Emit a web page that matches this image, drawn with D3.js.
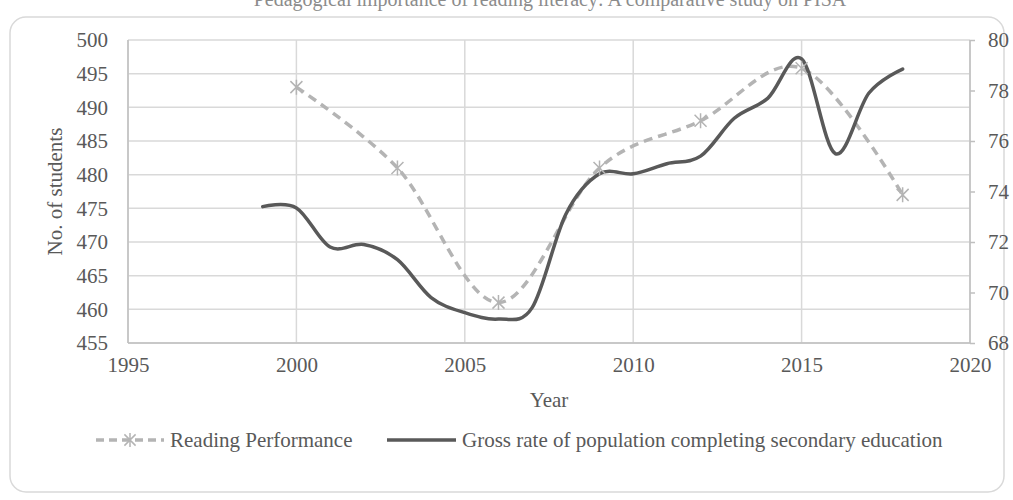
<!DOCTYPE html>
<html>
<head>
<meta charset="utf-8">
<script src="https://cdn.jsdelivr.net/npm/d3@7"></script>
<style>
  body { margin: 0; background: #fff; }
  text { font-family: "Liberation Serif", "Times New Roman", serif; fill: #595959; }
</style>
</head>
<body>
<script>
// reading performance (left axis)
var readingYears = [2000, 2003, 2006, 2009, 2012, 2015, 2018];
var readingScores = [493, 481, 461, 481, 488, 495.8, 477];

// gross completion rate (right axis)
var rateYears = [1999, 2000, 2001, 2002, 2003, 2004, 2005, 2006, 2007, 2008,
                 2009, 2010, 2011, 2012, 2013, 2014, 2015, 2016, 2017, 2018];
var rateValues = [73.4, 73.35, 71.8, 71.9, 71.3, 69.8, 69.2, 68.95, 69.4, 73.1,
                  74.7, 74.7, 75.1, 75.4, 76.9, 77.7, 79.25, 75.5, 77.9, 78.85];

var xTicks = [1995, 2000, 2005, 2010, 2015, 2020];
var leftTicks = [455, 460, 465, 470, 475, 480, 485, 490, 495, 500];
var rightTicks = [68, 70, 72, 74, 76, 78, 80];

var title = "Pedagogical importance of reading literacy: A comparative study on PISA";
var seriesNames = ["Reading Performance", "Gross rate of population completing secondary education"];

var W = 1013, H = 500;
var plotLeft = 128, plotRight = 970, plotTop = 40, plotBottom = 343;

var x = d3.scaleLinear().domain([1995, 2020]).range([plotLeft, plotRight]);
var yL = d3.scaleLinear().domain([455, 500]).range([plotBottom, plotTop]);
var yR = d3.scaleLinear().domain([68, 80]).range([plotBottom, plotTop]);

var svg = d3.select("body").append("svg")
    .attr("width", W)
    .attr("height", H);

// outer frame
svg.append("rect")
    .attr("x", 10).attr("y", 17)
    .attr("width", 994).attr("height", 475)
    .attr("rx", 16).attr("ry", 16)
    .attr("fill", "none")
    .attr("stroke", "#d9d9d9")
    .attr("stroke-width", 1.5);

svg.append("text")
    .attr("x", 550).attr("y", 6)
    .attr("text-anchor", "middle")
    .style("font-size", "20px")
    .style("fill", "#8c8c8c")
    .text(title);

// gridlines
svg.append("g").selectAll("line")
    .data(leftTicks)
  .enter().append("line")
    .attr("x1", plotLeft).attr("x2", plotRight)
    .attr("y1", function(d) { return yL(d); })
    .attr("y2", function(d) { return yL(d); })
    .attr("stroke", "#d9d9d9").attr("stroke-width", 1.5);

svg.append("g").selectAll("line")
    .data(xTicks)
  .enter().append("line")
    .attr("x1", function(d) { return x(d); })
    .attr("x2", function(d) { return x(d); })
    .attr("y1", plotTop).attr("y2", plotBottom)
    .attr("stroke", "#d9d9d9").attr("stroke-width", 1.5);

// axes
var xAxis = d3.axisBottom(x).tickValues(xTicks).tickSize(0).tickPadding(14).tickFormat(d3.format("d"));
var yAxisL = d3.axisLeft(yL).tickValues(leftTicks).tickSize(0).tickPadding(20);
var yAxisR = d3.axisRight(yR).tickValues(rightTicks).tickSize(5).tickPadding(13);

var gx = svg.append("g").attr("transform", "translate(0," + plotBottom + ")").call(xAxis);
var gl = svg.append("g").attr("transform", "translate(" + plotLeft + ",0)").call(yAxisL);
var gr = svg.append("g").attr("transform", "translate(" + plotRight + ",0)").call(yAxisR);

[gx, gl, gr].forEach(function(g) {
  g.select(".domain").attr("stroke", "#bfbfbf").attr("stroke-width", 1.5);
  g.selectAll(".tick line").attr("stroke", "#bfbfbf").attr("stroke-width", 1.5);
  g.selectAll(".tick text")
    .style("font-family", '"Liberation Serif", serif')
    .style("font-size", "21px")
    .attr("fill", "#595959");
});
gx.select(".domain").attr("d", "M" + plotLeft + ",0H" + plotRight);
gl.select(".domain").attr("d", "M0," + plotTop + "V" + plotBottom);
gr.select(".domain").attr("d", "M0," + plotTop + "V" + plotBottom);

// axis titles
svg.append("text")
    .attr("transform", "translate(62," + ((plotTop + plotBottom) / 2) + ") rotate(-90)")
    .attr("text-anchor", "middle")
    .style("font-size", "21px")
    .text("No. of students");

svg.append("text")
    .attr("x", (plotLeft + plotRight) / 2).attr("y", 407)
    .attr("text-anchor", "middle")
    .style("font-size", "21px")
    .text("Year");

// lines
var curve = d3.curveCardinal.tension(0);

var readingLine = d3.line()
    .x(function(d, i) { return x(readingYears[i]); })
    .y(function(d) { return yL(d); })
    .curve(curve);

var rateLine = d3.line()
    .x(function(d, i) { return x(rateYears[i]); })
    .y(function(d) { return yR(d); })
    .curve(curve);

svg.append("path")
    .attr("d", readingLine(readingScores))
    .attr("fill", "none")
    .attr("stroke", "#b4b4b4")
    .attr("stroke-width", 3.5)
    .attr("stroke-dasharray", "9,6");

svg.append("path")
    .attr("d", rateLine(rateValues))
    .attr("fill", "none")
    .attr("stroke", "#595959")
    .attr("stroke-width", 3.5)
    .attr("stroke-linecap", "round");

function star(cx, cy, r) {
  var a = r * 0.8;
  return "M" + cx + "," + (cy - r) + "V" + (cy + r) +
    "M" + (cx - a) + "," + (cy - a) + "L" + (cx + a) + "," + (cy + a) +
    "M" + (cx - a) + "," + (cy + a) + "L" + (cx + a) + "," + (cy - a);
}

svg.append("g").selectAll("path")
    .data(readingScores)
  .enter().append("path")
    .attr("d", function(d, i) { return star(x(readingYears[i]), yL(d), 7.5); })
    .attr("stroke", "#b4b4b4")
    .attr("stroke-width", 1.5)
    .attr("fill", "none");

// legend
var ly = 440;
var leg = svg.append("g");
leg.append("line")
    .attr("x1", 96).attr("x2", 164).attr("y1", ly).attr("y2", ly)
    .attr("stroke", "#b4b4b4").attr("stroke-width", 3.5)
    .attr("stroke-dasharray", "8,5");
leg.append("path")
    .attr("d", star(130, ly, 7))
    .attr("stroke", "#b4b4b4").attr("stroke-width", 1.5).attr("fill", "none");
leg.append("text")
    .attr("x", 170).attr("y", ly + 7)
    .style("font-size", "21px")
    .text(seriesNames[0]);
leg.append("line")
    .attr("x1", 387).attr("x2", 456).attr("y1", ly).attr("y2", ly)
    .attr("stroke", "#595959").attr("stroke-width", 3.5);
leg.append("text")
    .attr("x", 462).attr("y", ly + 7)
    .style("font-size", "21px")
    .text(seriesNames[1]);
</script>
</body>
</html>
